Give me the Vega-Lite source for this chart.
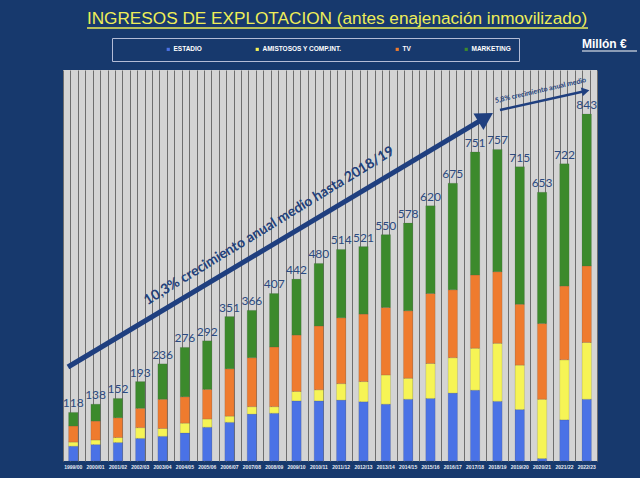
{
  "$schema": "https://vega.github.io/schema/vega-lite/v6.json",
  "width": 534,
  "height": 391,
  "autosize": "none",
  "padding": {"left": 63, "top": 70, "right": 43, "bottom": 17},
  "background": "#17396d",
  "title": {"text": "INGRESOS DE EXPLOTACION (antes enajenación inmovilizado)", "font": "Liberation Sans", "fontSize": 17.2, "fontWeight": "normal", "color": "#eeee58", "anchor": "middle", "offset": 11, "dy": 11, "dx": 7},
  "config": {"view": {"fill": "#d4d4d4", "stroke": null}},
  "layer": [
    {
      "data": {"values": [
        {"season": "1999/00", "category": "ESTADIO", "value": 36}, {"season": "1999/00", "category": "AMISTOSOS Y COMP.INT.", "value": 10}, {"season": "1999/00", "category": "TV", "value": 39}, {"season": "1999/00", "category": "MARKETING", "value": 33},
        {"season": "2000/01", "category": "ESTADIO", "value": 40}, {"season": "2000/01", "category": "AMISTOSOS Y COMP.INT.", "value": 11}, {"season": "2000/01", "category": "TV", "value": 46}, {"season": "2000/01", "category": "MARKETING", "value": 41},
        {"season": "2001/02", "category": "ESTADIO", "value": 45}, {"season": "2001/02", "category": "AMISTOSOS Y COMP.INT.", "value": 12}, {"season": "2001/02", "category": "TV", "value": 48}, {"season": "2001/02", "category": "MARKETING", "value": 47},
        {"season": "2002/03", "category": "ESTADIO", "value": 55}, {"season": "2002/03", "category": "AMISTOSOS Y COMP.INT.", "value": 26}, {"season": "2002/03", "category": "TV", "value": 47}, {"season": "2002/03", "category": "MARKETING", "value": 65},
        {"season": "2003/04", "category": "ESTADIO", "value": 60}, {"season": "2003/04", "category": "AMISTOSOS Y COMP.INT.", "value": 19}, {"season": "2003/04", "category": "TV", "value": 71}, {"season": "2003/04", "category": "MARKETING", "value": 86},
        {"season": "2004/05", "category": "ESTADIO", "value": 68}, {"season": "2004/05", "category": "AMISTOSOS Y COMP.INT.", "value": 24}, {"season": "2004/05", "category": "TV", "value": 64}, {"season": "2004/05", "category": "MARKETING", "value": 120},
        {"season": "2005/06", "category": "ESTADIO", "value": 82}, {"season": "2005/06", "category": "AMISTOSOS Y COMP.INT.", "value": 20}, {"season": "2005/06", "category": "TV", "value": 72}, {"season": "2005/06", "category": "MARKETING", "value": 118},
        {"season": "2006/07", "category": "ESTADIO", "value": 94}, {"season": "2006/07", "category": "AMISTOSOS Y COMP.INT.", "value": 15}, {"season": "2006/07", "category": "TV", "value": 115}, {"season": "2006/07", "category": "MARKETING", "value": 127},
        {"season": "2007/08", "category": "ESTADIO", "value": 114}, {"season": "2007/08", "category": "AMISTOSOS Y COMP.INT.", "value": 18}, {"season": "2007/08", "category": "TV", "value": 119}, {"season": "2007/08", "category": "MARKETING", "value": 115},
        {"season": "2008/09", "category": "ESTADIO", "value": 116}, {"season": "2008/09", "category": "AMISTOSOS Y COMP.INT.", "value": 16}, {"season": "2008/09", "category": "TV", "value": 145}, {"season": "2008/09", "category": "MARKETING", "value": 130},
        {"season": "2009/10", "category": "ESTADIO", "value": 146}, {"season": "2009/10", "category": "AMISTOSOS Y COMP.INT.", "value": 23}, {"season": "2009/10", "category": "TV", "value": 137}, {"season": "2009/10", "category": "MARKETING", "value": 136},
        {"season": "2010/11", "category": "ESTADIO", "value": 146}, {"season": "2010/11", "category": "AMISTOSOS Y COMP.INT.", "value": 27}, {"season": "2010/11", "category": "TV", "value": 155}, {"season": "2010/11", "category": "MARKETING", "value": 152},
        {"season": "2011/12", "category": "ESTADIO", "value": 148}, {"season": "2011/12", "category": "AMISTOSOS Y COMP.INT.", "value": 40}, {"season": "2011/12", "category": "TV", "value": 160}, {"season": "2011/12", "category": "MARKETING", "value": 166},
        {"season": "2012/13", "category": "ESTADIO", "value": 144}, {"season": "2012/13", "category": "AMISTOSOS Y COMP.INT.", "value": 49}, {"season": "2012/13", "category": "TV", "value": 164}, {"season": "2012/13", "category": "MARKETING", "value": 164},
        {"season": "2013/14", "category": "ESTADIO", "value": 138}, {"season": "2013/14", "category": "AMISTOSOS Y COMP.INT.", "value": 71}, {"season": "2013/14", "category": "TV", "value": 164}, {"season": "2013/14", "category": "MARKETING", "value": 177},
        {"season": "2014/15", "category": "ESTADIO", "value": 150}, {"season": "2014/15", "category": "AMISTOSOS Y COMP.INT.", "value": 51}, {"season": "2014/15", "category": "TV", "value": 164}, {"season": "2014/15", "category": "MARKETING", "value": 213},
        {"season": "2015/16", "category": "ESTADIO", "value": 152}, {"season": "2015/16", "category": "AMISTOSOS Y COMP.INT.", "value": 85}, {"season": "2015/16", "category": "TV", "value": 170}, {"season": "2015/16", "category": "MARKETING", "value": 213},
        {"season": "2016/17", "category": "ESTADIO", "value": 165}, {"season": "2016/17", "category": "AMISTOSOS Y COMP.INT.", "value": 86}, {"season": "2016/17", "category": "TV", "value": 165}, {"season": "2016/17", "category": "MARKETING", "value": 259},
        {"season": "2017/18", "category": "ESTADIO", "value": 172}, {"season": "2017/18", "category": "AMISTOSOS Y COMP.INT.", "value": 102}, {"season": "2017/18", "category": "TV", "value": 178}, {"season": "2017/18", "category": "MARKETING", "value": 299},
        {"season": "2018/19", "category": "ESTADIO", "value": 145}, {"season": "2018/19", "category": "AMISTOSOS Y COMP.INT.", "value": 141}, {"season": "2018/19", "category": "TV", "value": 174}, {"season": "2018/19", "category": "MARKETING", "value": 297},
        {"season": "2019/20", "category": "ESTADIO", "value": 125}, {"season": "2019/20", "category": "AMISTOSOS Y COMP.INT.", "value": 108}, {"season": "2019/20", "category": "TV", "value": 148}, {"season": "2019/20", "category": "MARKETING", "value": 334},
        {"season": "2020/21", "category": "ESTADIO", "value": 6}, {"season": "2020/21", "category": "AMISTOSOS Y COMP.INT.", "value": 144}, {"season": "2020/21", "category": "TV", "value": 184}, {"season": "2020/21", "category": "MARKETING", "value": 319},
        {"season": "2021/22", "category": "ESTADIO", "value": 100}, {"season": "2021/22", "category": "AMISTOSOS Y COMP.INT.", "value": 146}, {"season": "2021/22", "category": "TV", "value": 179}, {"season": "2021/22", "category": "MARKETING", "value": 297},
        {"season": "2022/23", "category": "ESTADIO", "value": 150}, {"season": "2022/23", "category": "AMISTOSOS Y COMP.INT.", "value": 138}, {"season": "2022/23", "category": "TV", "value": 186}, {"season": "2022/23", "category": "MARKETING", "value": 369}
      ]},
      "layer": [
        {
          "transform": [
            {"lookup": "category", "from": {"data": {"values": [
              {"category": "ESTADIO", "rank": 1}, {"category": "AMISTOSOS Y COMP.INT.", "rank": 2}, {"category": "TV", "rank": 3}, {"category": "MARKETING", "rank": 4}
            ]}, "key": "category", "fields": ["rank"]}}
          ],
          "mark": {"type": "bar", "stroke": "#555555", "strokeWidth": 0.3, "strokeOpacity": 0.6},
          "encoding": {
            "x": {"field": "season", "type": "ordinal", "sort": null, "scale": {"paddingInner": 0.58, "paddingOuter": 0.25},
                  "axis": {"title": null, "labelAngle": 0, "labelFont": "Liberation Sans", "labelFontSize": 5, "labelFontWeight": "bold", "labelColor": "#e6eaf4", "ticks": false, "domain": false, "grid": false, "labelPadding": 3}},
            "y": {"field": "value", "type": "quantitative", "stack": "zero", "scale": {"domain": [0, 950], "nice": false},
                  "axis": {"title": null,
                           "values": [0,5,10,15,20,25,30,35,40,45,50,55,60,65,70,75,80,85,90,95,100,105,110,115,120,125,130,135,140,145,150,155,160,165,170,175,180,185,190,195,200,205,210,215,220,225,230,235,240,245,250,255,260,265,270,275,280,285,290,295,300,305,310,315,320,325,330,335,340,345,350,355,360,365,370,375,380,385,390,395,400,405,410,415,420,425,430,435,440,445,450,455,460,465,470,475,480,485,490,495,500,505,510,515,520,525,530,535,540,545,550,555,560,565,570,575,580,585,590,595,600,605,610,615,620,625,630,635,640,645,650,655,660,665,670,675,680,685,690,695,700,705,710,715,720,725,730,735,740,745,750,755,760,765,770,775,780,785,790,795,800,805,810,815,820,825,830,835,840,845,850,855,860,865,870,875,880,885,890,895,900,905,910,915,920,925,930,935,940,945,950],
                           "labelExpr": "datum.value % 50 == 0 ? datum.label : ''", "labelOverlap": false, "labelBound": false, "labelFont": "Liberation Sans", "labelFontSize": 7, "labelFontWeight": "bold", "labelColor": "#ffffff", "ticks": false, "domain": false, "labelPadding": 6, "grid": true, "gridColor": "#767676", "gridOpacity": 1, "gridWidth": 0.8}},
            "order": {"field": "rank", "type": "quantitative", "sort": "ascending"},
            "color": {"field": "category", "type": "nominal",
                      "sort": ["ESTADIO", "AMISTOSOS Y COMP.INT.", "TV", "MARKETING"],
                      "scale": {"domain": ["ESTADIO", "AMISTOSOS Y COMP.INT.", "TV", "MARKETING"], "range": ["#4a72e6", "#f6f455", "#ef7b2e", "#3c8a2c"]},
                      "legend": {"title": "\u00a0", "titleOrient": "left", "titleFontSize": 6, "titlePadding": 45, "orient": "none", "legendX": 49, "legendY": -32, "direction": "horizontal",
                                 "padding": 8, "strokeColor": "#b4bcd6", "fillColor": "#17396d",
                                 "symbolType": "square", "symbolSize": 10, "symbolStrokeWidth": 0, "labelOffset": 2, "columnPadding": 52,
                                 "labelFont": "Liberation Sans", "labelFontSize": 6.5, "labelFontWeight": "bold", "labelColor": "#ffffff",
                                 "labelExpr": "datum.label == 'MARKETING' ? 'MARKETING' + '\u00a0\u00a0\u00a0\u00a0\u00a0\u00a0\u00a0\u00a0\u00a0\u00a0\u00a0\u00a0\u00a0\u00a0\u00a0\u00a0\u00a0\u00a0\u00a0\u00a0\u00a0\u00a0\u00a0\u00a0' : datum.label"}}
          }
        },
        {
          "mark": {"type": "text", "font": "Lato", "fontSize": 12, "color": "#2c4a80", "baseline": "alphabetic", "dy": -5},
          "encoding": {
            "x": {"field": "season", "type": "ordinal", "sort": null},
            "y": {"aggregate": "sum", "field": "value", "type": "quantitative"},
            "text": {"aggregate": "sum", "field": "value", "type": "quantitative"}
          }
        }
      ]
    },
    {
      "layer": [
        {
          "data": {"values": [{}]},
          "mark": {"type": "rule", "color": "#1f3f7f", "strokeWidth": 5, "strokeCap": "butt"},
          "encoding": {
            "x": {"datum": 0.67, "type": "quantitative", "scale": {"domain": [0, 72], "nice": false, "zero": false},
                  "axis": {"orient": "top", "title": null, "grid": true, "tickCount": 72, "labels": false, "ticks": false, "domain": false, "gridColor": "#6e6e6e", "gridWidth": 1}},
            "x2": {"datum": 56.99},
            "y": {"datum": 228.4, "type": "quantitative", "scale": {"domain": [0, 950], "nice": false}, "axis": null},
            "y2": {"datum": 834.8}
          }
        },
        {
          "data": {"values": [{}]},
          "mark": {"type": "point", "shape": "triangle-up", "filled": true, "size": 380, "angle": 59, "color": "#1f3f7f", "opacity": 1},
          "encoding": {
            "x": {"datum": 56.99, "type": "quantitative", "scale": {"domain": [0, 72], "nice": false, "zero": false}},
            "y": {"datum": 834.8, "type": "quantitative", "scale": {"domain": [0, 950], "nice": false}, "axis": null}
          }
        },
        {
          "data": {"values": [{}]},
          "mark": {"type": "rule", "color": "#1f3f7f", "strokeWidth": 2.5, "strokeCap": "butt"},
          "encoding": {
            "x": {"datum": 58.92, "type": "quantitative", "scale": {"domain": [0, 72], "nice": false, "zero": false}},
            "x2": {"datum": 70.46},
            "y": {"datum": 852.8, "type": "quantitative", "scale": {"domain": [0, 950], "nice": false}, "axis": null},
            "y2": {"datum": 899.0}
          }
        },
        {
          "data": {"values": [{}]},
          "mark": {"type": "point", "shape": "triangle-up", "filled": true, "size": 80, "angle": 77.5, "color": "#1f3f7f", "opacity": 1},
          "encoding": {
            "x": {"datum": 70.46, "type": "quantitative", "scale": {"domain": [0, 72], "nice": false, "zero": false}},
            "y": {"datum": 899.0, "type": "quantitative", "scale": {"domain": [0, 950], "nice": false}, "axis": null}
          }
        },
        {
          "data": {"values": [{}]},
          "mark": {"type": "text", "text": "10,3% crecimiento anual medio hasta 2018/19", "font": "Lato", "fontSize": 14, "fontWeight": "bold", "color": "#22407a", "angle": -31.5, "align": "center", "baseline": "middle"},
          "encoding": {
            "x": {"datum": 27.8, "type": "quantitative", "scale": {"domain": [0, 72], "nice": false, "zero": false}},
            "y": {"datum": 571, "type": "quantitative", "scale": {"domain": [0, 950], "nice": false}, "axis": null}
          }
        },
        {
          "data": {"values": [{}]},
          "mark": {"type": "text", "text": "5,8% crecimiento anual medio", "font": "Lato", "fontSize": 7, "fontWeight": "bold", "color": "#22407a", "angle": -13, "align": "center", "baseline": "middle"},
          "encoding": {
            "x": {"datum": 64.38, "type": "quantitative", "scale": {"domain": [0, 72], "nice": false, "zero": false}},
            "y": {"datum": 900.2, "type": "quantitative", "scale": {"domain": [0, 950], "nice": false}, "axis": null}
          }
        },
        {
          "data": {"values": [{}]},
          "mark": {"type": "text", "text": "Millón €", "font": "Liberation Sans", "fontSize": 12, "fontWeight": "bold", "color": "#ffffff", "align": "left", "baseline": "middle"},
          "encoding": {
            "x": {"datum": 69.98, "type": "quantitative", "scale": {"domain": [0, 72], "nice": false, "zero": false}},
            "y": {"datum": 1013.2, "type": "quantitative", "scale": {"domain": [0, 950], "nice": false}, "axis": null}
          }
        },
        {
          "data": {"values": [{}]},
          "mark": {"type": "rule", "color": "#ffffff", "strokeWidth": 1.2},
          "encoding": {
            "x": {"datum": 69.98, "type": "quantitative", "scale": {"domain": [0, 72], "nice": false, "zero": false}},
            "x2": {"datum": 77.4},
            "y": {"datum": 996.2, "type": "quantitative", "scale": {"domain": [0, 950], "nice": false}, "axis": null}
          }
        },
        {
          "data": {"values": [{}]},
          "mark": {"type": "rule", "color": "#eeee58", "strokeWidth": 1.5},
          "encoding": {
            "x": {"datum": 3.24, "type": "quantitative", "scale": {"domain": [0, 72], "nice": false, "zero": false}},
            "x2": {"datum": 70.79},
            "y": {"datum": 1052, "type": "quantitative", "scale": {"domain": [0, 950], "nice": false}, "axis": null}
          }
        }
      ]
    }
  ],
  "resolve": {"scale": {"x": "independent"}, "axis": {"x": "independent"}}
}
